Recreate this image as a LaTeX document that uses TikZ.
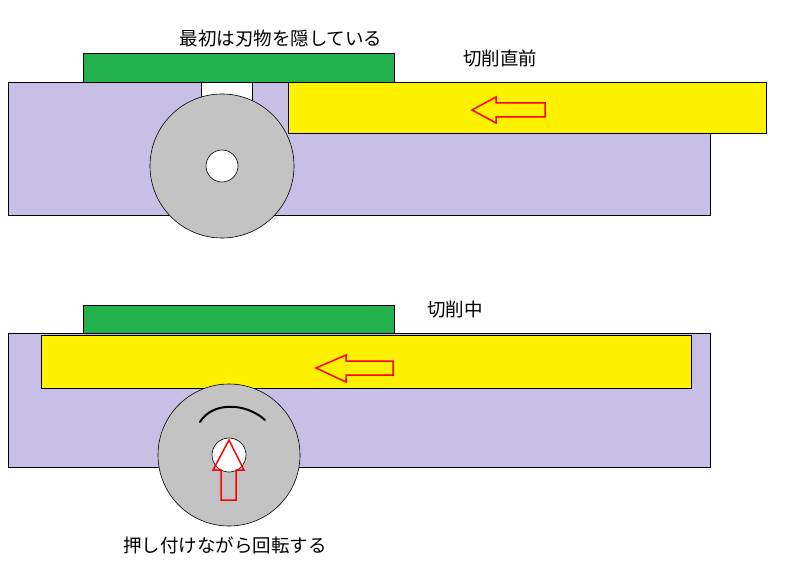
\documentclass[tikz,border=0pt]{standalone}
\usepackage{fontspec}
\newfontfamily\cjk{Noto Sans CJK JP}
\definecolor{lav}{HTML}{C8BFE7}
\definecolor{grn}{HTML}{22B14C}
\definecolor{yel}{HTML}{FFF200}
\definecolor{gry}{HTML}{C3C3C3}
\tikzset{
 base/.style={draw=black,line width=0.6pt},
 body/.style={base,fill=lav},
 top/.style={base,fill=grn},
 bar/.style={base,fill=yel},
 wheel/.style={base,fill=gry},
 hole/.style={base,fill=white},
 redarrow/.style={draw=red,line width=1.5pt,line join=miter},
 lbl/.style={font=\cjk\fontsize{18.5}{22}\selectfont}
}
\begin{document}
\begin{tikzpicture}[x=1pt,y=-1pt]
\useasboundingbox (0,0) rectangle (800,580);
% top panel
\draw[body] (8,82) rectangle (710,215);
\draw[top] (83,53) rectangle (394,82);
\draw[hole] (201,82) rectangle (252,105);
\draw[wheel] (222,166) circle (72);
\draw[hole] (222,166) circle (16);
\draw[bar] (288,82) rectangle (766,133);
\draw[redarrow] (472,110) -- (496,97) -- (496,103) -- (545,103) -- (545,117) -- (496,117) -- (496,123) -- cycle;
\node[lbl] (t1) at (281,38) {最初は刃物を隠している};
\node[lbl] (t2) at (500,58) {切削直前};
% bottom panel
\draw[body] (8,333) rectangle (710,467);
\draw[top] (83,305) rectangle (394,333);
\draw[bar] (41,335) rectangle (691,388);
\draw[redarrow] (316,368) -- (346,355) -- (346,361) -- (393,361) -- (393,375) -- (346,375) -- (346,382) -- cycle;
\draw[wheel] (229,455) circle (71);
\draw[hole] (229,455) circle (17);
\draw[redarrow] (229,440) -- (244,470) -- (236,470) -- (236,500) -- (221,500) -- (221,470) -- (213,470) -- cycle;
\draw[line width=2pt,line cap=round] (200,422) .. controls (212,402) and (245,402) .. (265,420);
\node[lbl] (t3) at (455,309) {切削中};
\node[lbl] (t4) at (225,545) {押し付けながら回転する};
\end{tikzpicture}
\end{document}
